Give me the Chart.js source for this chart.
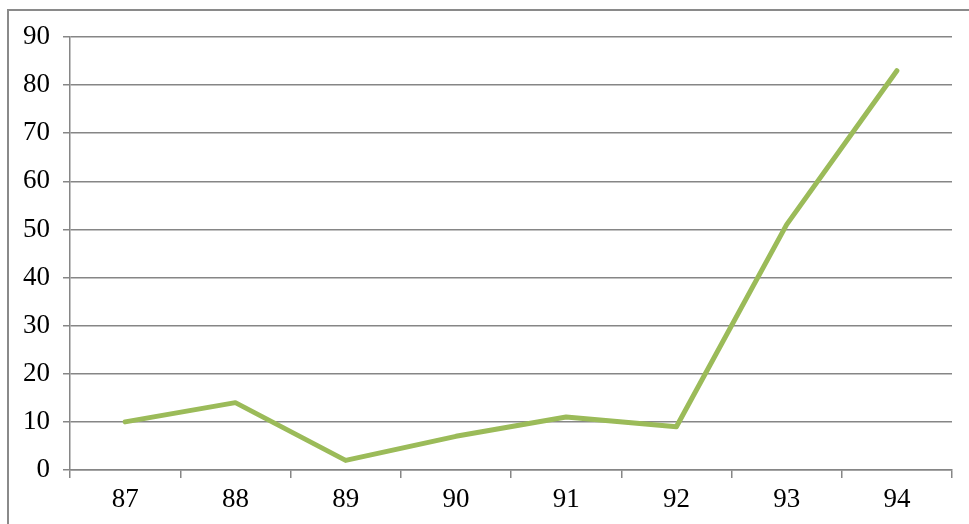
<!DOCTYPE html>
<html>
<head>
<meta charset="utf-8">
<script src="https://cdn.jsdelivr.net/npm/chart.js@4"></script>
<style>
  html, body { margin: 0; padding: 0; background: #fff; }
  body { width: 969px; height: 524px; position: relative; overflow: hidden; }
  .frame {
    position: absolute; left: 7px; top: 9px; width: 1000px; height: 600px;
    border-left: 2px solid #8a8a8a; border-top: 2px solid #8a8a8a;
  }
  #wrap { position: absolute; left: 0; top: 0; width: 969px; height: 524px; }
</style>
</head>
<body>
<div class="frame"></div>
<div id="wrap"><canvas id="chart"></canvas></div>
<script>
const years = ["87", "88", "89", "90", "91", "92", "93", "94"];
const values = [10, 14, 2, 7, 11, 9, 51, 83];
const yMin = 0;
const yMax = 90;
const yStep = 10;

const axisColor = "#868686";
const fontSpec = { family: "Liberation Serif", size: 27 };

new Chart(document.getElementById("chart").getContext("2d"), {
  type: "line",
  data: {
    labels: years,
    datasets: [
      {
        data: values,
        borderColor: "#9bbb59",
        borderWidth: 5,
        borderCapStyle: "round",
        borderJoinStyle: "round",
        pointRadius: 0,
        tension: 0,
        fill: false,
      },
    ],
  },
  options: {
    responsive: true,
    maintainAspectRatio: false,
    animation: false,
    layout: { padding: { left: 0, top: 37, right: 17, bottom: 0 } },
    plugins: { legend: { display: false }, tooltip: { enabled: false } },
    scales: {
      x: {
        offset: true,
        grid: {
          offset: true,
          drawOnChartArea: false,
          color: axisColor,
          lineWidth: 1.5,
          tickLength: 8,
        },
        border: { color: axisColor, width: 1.5 },
        ticks: { color: "#000", font: fontSpec, padding: 6, maxRotation: 0 },
        afterFit: (scale) => { scale.height = 54; },
      },
      y: {
        min: yMin,
        max: yMax,
        grid: { color: axisColor, lineWidth: 1.5, tickLength: 7 },
        border: { color: axisColor, width: 1.5 },
        ticks: { stepSize: yStep, color: "#000", font: fontSpec, padding: 13 },
        afterFit: (scale) => { scale.width = 70; },
      },
    },
  },
});
</script>
</body>
</html>
